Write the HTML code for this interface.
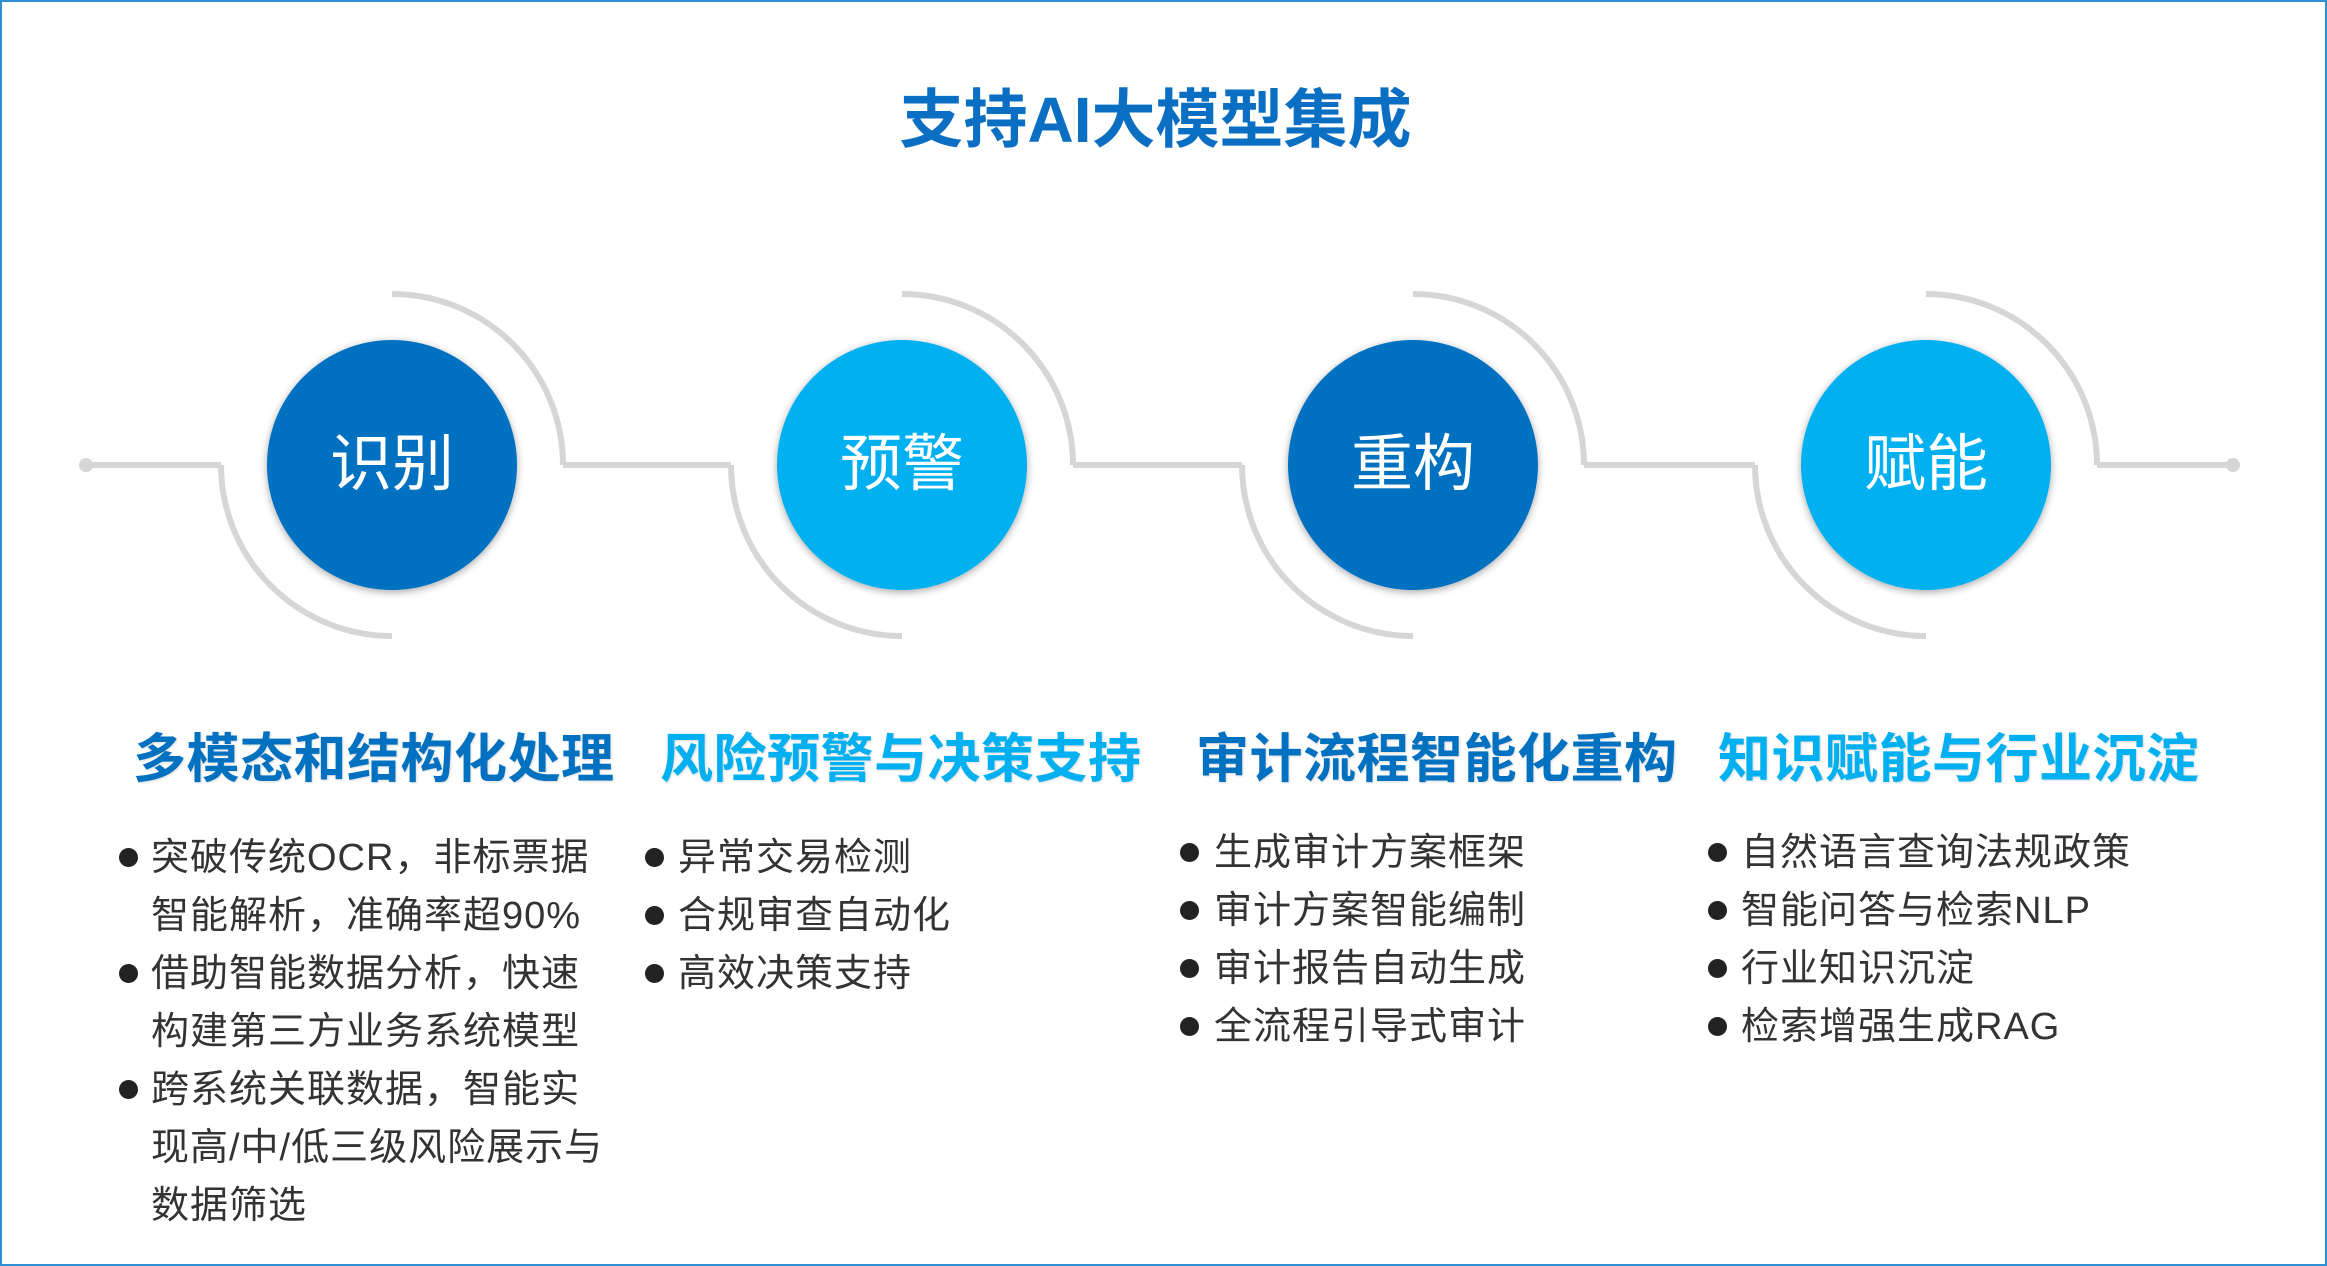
<!DOCTYPE html>
<html><head><meta charset="utf-8">
<style>
html,body{margin:0;padding:0;}
body{width:2327px;height:1266px;position:relative;overflow:hidden;background:#fff;font-family:"Liberation Sans","Noto Sans CJK SC",sans-serif;}
.frame{position:absolute;left:0;top:0;width:2323px;height:1262px;border:2px solid #2f8fd3;}
.t{position:absolute;white-space:nowrap;}
.title{left:-8px;width:2327px;top:80px;text-align:center;font-size:64px;font-weight:bold;color:#0a6fc2;line-height:80px;}
.h{font-size:53px;font-weight:bold;line-height:70px;top:725px;text-shadow:1px 1px 2px rgba(0,0,0,0.15);letter-spacing:0.5px;}
.d{color:#0070c0}.l{color:#00b0f0}
.li{font-size:38px;color:#333;line-height:58px;letter-spacing:1px;}
.b{position:absolute;width:19px;height:19px;border-radius:50%;background:#222;}
.c{position:absolute;font-size:62px;color:#fff;line-height:80px;width:250px;text-align:center;}
</style></head><body>
<div class="frame"></div>
<svg width="2327" height="1266" style="position:absolute;left:0;top:0">
<defs><filter id="sh" x="-20%" y="-20%" width="140%" height="140%"><feDropShadow dx="0" dy="2" stdDeviation="4" flood-color="#000" flood-opacity="0.35"/></filter></defs>
<g fill="none" stroke="#d6d6d6" stroke-width="6">
<path d="M86 465 H221"/>
<path d="M563 465 H731"/>
<path d="M1073 465 H1242"/>
<path d="M1584 465 H1755"/>
<path d="M2097 465 H2233"/>
<path d="M392 294 A171 171 0 0 1 563 465"/><path d="M221 465 A171 171 0 0 0 392 636"/>
<path d="M902 294 A171 171 0 0 1 1073 465"/><path d="M731 465 A171 171 0 0 0 902 636"/>
<path d="M1413 294 A171 171 0 0 1 1584 465"/><path d="M1242 465 A171 171 0 0 0 1413 636"/>
<path d="M1926 294 A171 171 0 0 1 2097 465"/><path d="M1755 465 A171 171 0 0 0 1926 636"/>
</g>
<circle cx="86" cy="465" r="7" fill="#d6d6d6"/><circle cx="2233" cy="465" r="7" fill="#d6d6d6"/>
<circle cx="392" cy="465" r="125" fill="#0070c0" filter="url(#sh)"/>
<circle cx="902" cy="465" r="125" fill="#00b0f0" filter="url(#sh)"/>
<circle cx="1413" cy="465" r="125" fill="#0070c0" filter="url(#sh)"/>
<circle cx="1926" cy="465" r="125" fill="#00b0f0" filter="url(#sh)"/>
</svg>
<div class="t title">支持AI大模型集成</div>
<div class="c" style="left:267px;top:425px">识别</div>
<div class="c" style="left:777px;top:425px">预警</div>
<div class="c" style="left:1288px;top:425px">重构</div>
<div class="c" style="left:1801px;top:425px">赋能</div>

<div class="t h d" style="left:133px">多模态和结构化处理</div>
<div class="t h l" style="left:660px">风险预警与决策支持</div>
<div class="t h d" style="left:1196px">审计流程智能化重构</div>
<div class="t h l" style="left:1718px">知识赋能与行业沉淀</div>

<div class="b" style="left:119px;top:848px"></div>
<div class="b" style="left:119px;top:964px"></div>
<div class="b" style="left:119px;top:1080px"></div>
<div class="t li" style="left:151px;top:829px">突破传统OCR，非标票据<br>智能解析，准确率超90%<br>借助智能数据分析，快速<br>构建第三方业务系统模型<br>跨系统关联数据，智能实<br>现高/中/低三级风险展示与<br>数据筛选</div>

<div class="b" style="left:645px;top:848px"></div>
<div class="b" style="left:645px;top:906px"></div>
<div class="b" style="left:645px;top:964px"></div>
<div class="t li" style="left:678px;top:829px">异常交易检测<br>合规审查自动化<br>高效决策支持</div>

<div class="b" style="left:1180px;top:843px"></div>
<div class="b" style="left:1180px;top:901px"></div>
<div class="b" style="left:1180px;top:959px"></div>
<div class="b" style="left:1180px;top:1017px"></div>
<div class="t li" style="left:1214px;top:824px">生成审计方案框架<br>审计方案智能编制<br>审计报告自动生成<br>全流程引导式审计</div>

<div class="b" style="left:1708px;top:843px"></div>
<div class="b" style="left:1708px;top:901px"></div>
<div class="b" style="left:1708px;top:959px"></div>
<div class="b" style="left:1708px;top:1017px"></div>
<div class="t li" style="left:1741px;top:824px">自然语言查询法规政策<br>智能问答与检索NLP<br>行业知识沉淀<br>检索增强生成RAG</div>
</body></html>
